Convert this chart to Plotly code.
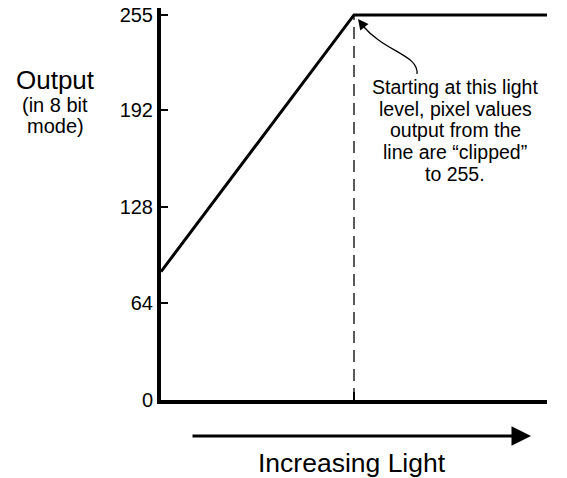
import plotly.graph_objects as go

# ---- data ----
light = [0, 1, 2]              # relative light level (clip point at 1)
output = [85, 255, 255]        # 8-bit output
clip_light = 1
clip_value = 255
ytick_vals = [0, 64, 128, 192, 255]
ytick_text = ["0", "64", "128", "192", "255"]
xtick_vals = [1, 2]
note_lines = ["Starting at this light", "level, pixel values", "output from the",
              "line are \u201cclipped\u201d", "to 255."]
ylabel_main = "Output"
ylabel_sub = ["(in 8 bit", "mode)"]
xlabel = "Increasing Light"

FONT = "Liberation Sans, Arial, sans-serif"

OFF = 0                      # body margin removed by post_script
W, H = 567, 478
L, R, T, B = 161, 20, 8, 78
pw, ph = W - L - R, H - T - B
xr = [0, 2]
yr = [0, 259.6]

def paper(sx, sy):
    """screen pixel -> paper coords"""
    fx, fy = sx - OFF, sy - OFF
    return (fx - L) / pw, (H - B - fy) / ph

def data(sx, sy):
    px_, py_ = paper(sx, sy)
    return xr[0] + px_ * (xr[1] - xr[0]), yr[0] + py_ * (yr[1] - yr[0])

fig = go.Figure()
fig.add_trace(go.Scatter(x=[clip_light, clip_light], y=[0, clip_value], mode="lines",
                         line=dict(color="black", width=1.3, dash="12px,7px"),
                         hoverinfo="skip", showlegend=False))
fig.add_trace(go.Scatter(x=light, y=output, mode="lines",
                         line=dict(color="black", width=3),
                         hoverinfo="skip", showlegend=False, cliponaxis=False))

def txt(t, sx, sy, size):
    x0, y0 = paper(sx, sy)
    return dict(text=t, x=x0, y=y0, xref="paper", yref="paper", xanchor="center",
                yanchor="middle", showarrow=False,
                font=dict(size=size, family=FONT, color="black"))

annotations = [txt(ylabel_main, 55, 80, 26)]
for i, t in enumerate(ylabel_sub):
    annotations.append(txt(t, 55, 105 + 20.5 * i, 20))
for i, t in enumerate(note_lines):
    annotations.append(txt(t, 455, 87 + 21.7 * i, 19.5))
annotations.append(txt(xlabel, 352, 463, 26.5))

# bottom arrow
ax0, _ = data(191, 436)
ax1, _ = data(531, 436)
_, ya = paper(0, 436)
annotations.append(dict(text="", x=ax1, y=ya, xref="x", yref="paper",
                        ax=ax0, ay=0, axref="x", ayref="pixel",
                        showarrow=True, arrowhead=2, arrowsize=1.3, arrowwidth=3,
                        arrowcolor="black"))
# curved pointer arrowhead
tip = data(358, 19)
annotations.append(dict(text="", x=tip[0], y=tip[1], xref="x", yref="y",
                        ax=7, ay=9, showarrow=True, arrowhead=2, arrowsize=1.6,
                        arrowwidth=1.3, arrowcolor="black"))

p0 = data(417, 74); c1 = data(419, 55); c2 = data(385, 52); p1 = data(363, 26)
path = f"M {p0[0]},{p0[1]} C {c1[0]},{c1[1]} {c2[0]},{c2[1]} {p1[0]},{p1[1]}"
fig.add_shape(type="path", path=path, xref="x", yref="y",
              line=dict(color="black", width=1.3))

fig.update_layout(
    width=W, height=H, margin=dict(l=L, r=R, t=T, b=B, pad=0),
    paper_bgcolor="white", plot_bgcolor="white",
    annotations=annotations,
    xaxis=dict(range=xr, showgrid=False, zeroline=False, showline=True,
               linecolor="black", linewidth=4, ticks="inside", ticklen=8,
               tickwidth=2, tickcolor="black", tickvals=xtick_vals,
               showticklabels=False, fixedrange=True, automargin=False),
    yaxis=dict(range=yr, showgrid=False, zeroline=False, showline=True,
               linecolor="black", linewidth=4, ticks="inside", ticklen=7,
               tickwidth=2, tickcolor="black", tickvals=ytick_vals,
               ticktext=ytick_text, tickfont=dict(size=20, family=FONT, color="black"),
               ticklabeloverflow="allow", fixedrange=True, automargin=False),
    showlegend=False,
)
fig.write_html("out.html", config={"displayModeBar": False},
               post_script="document.body.style.margin='0';document.body.style.overflow='hidden';")
